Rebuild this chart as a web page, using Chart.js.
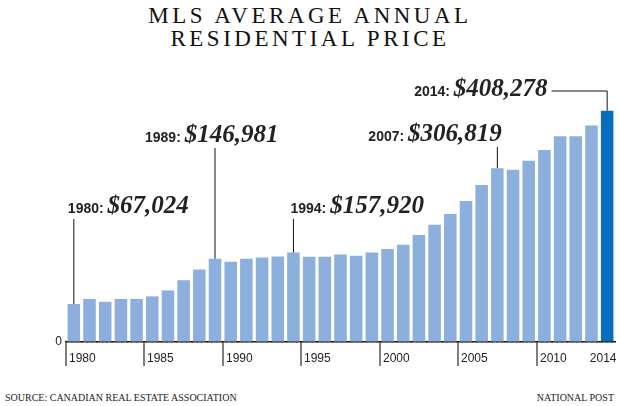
<!DOCTYPE html>
<html>
<head>
<meta charset="utf-8">
<script src="https://cdn.jsdelivr.net/npm/chart.js@4"></script>
<style>
  body { margin: 0; width: 620px; height: 406px; background: #fff; position: relative; overflow: hidden; }
  .title { position: absolute; top: 4px; left: 0; width: 620px; text-align: center; font-family: 'Liberation Serif', serif; font-size: 23px; letter-spacing: 3.5px; line-height: 23px; color: #111; }
  .box { position: absolute; top: 60px; left: 0; width: 620px; height: 320px; }
  .foot { position: absolute; top: 392px; font-family: 'Liberation Serif', serif; font-size: 10px; color: #222; }
</style>
</head>
<body>
<div class="title">MLS AVERAGE ANNUAL<br>RESIDENTIAL PRICE</div>
<div class="box"><canvas id="myChart"></canvas></div>
<div class="foot" style="left:5px">SOURCE: CANADIAN REAL ESTATE ASSOCIATION</div>
<div class="foot" style="right:6px">NATIONAL POST</div>
<script>
const years = [];
for (let y = 1980; y <= 2014; y++) years.push(String(y));
const prices = [67024, 76000, 71000, 76000, 76000, 80500, 91000, 109000, 128000, 146981,
  141400, 147000, 149000, 151000, 157920, 150400, 150300, 154600, 152400, 158000,
  163900, 171700, 189000, 207000, 226000, 249000, 277000, 306819, 304000, 320000,
  339000, 363000, 363000, 382000, 408278];
const tickYears = ['1980', '1985', '1990', '1995', '2000', '2005', '2010'];
const calloutYears = ['1980', '1989', '1994', '2007', '2014'];

// where each callout text sits (layout only)
const calloutLayout = {
  '1980': { dx: -6, y: 213 - 60 },
  '1989': { dx: -70, y: 142 - 60 },
  '1994': { dx: -3, y: 213 - 60 },
  '2007': { dx: -129, y: 141 - 60 },
  '2014': { dx: -193, y: 96 - 60, elbow: true }
};

function fmt(v) { return '$' + v.toLocaleString('en-US'); }

const extras = {
  id: 'extras',
  afterDraw(chart) {
    const ctx = chart.ctx, xs = chart.scales.x, ys = chart.scales.y;
    const base = ys.getPixelForValue(0);
    const step = xs.getPixelForValue(1) - xs.getPixelForValue(0);
    ctx.save();
    // x axis ticks and labels
    ctx.font = '12px "Liberation Sans", sans-serif';
    ctx.fillStyle = '#222';
    ctx.textBaseline = 'middle';
    ctx.strokeStyle = '#555';
    ctx.lineWidth = 1.5;
    tickYears.forEach(y => {
      const x = Math.round(xs.getPixelForValue(years.indexOf(y)) - step / 2);
      ctx.beginPath(); ctx.moveTo(x, base); ctx.lineTo(x, base + 24); ctx.stroke();
      ctx.textAlign = 'left';
      ctx.fillText(y, x + 3, base + 17);
    });
    ctx.textAlign = 'center';
    ctx.fillText('2014', xs.getPixelForValue(years.length - 1) - 4, base + 17);

    // callouts
    ctx.strokeStyle = '#111';
    ctx.lineWidth = 1;
    calloutYears.forEach(y => {
      const i = years.indexOf(y);
      const lay = calloutLayout[y];
      const x = xs.getPixelForValue(i);
      const top = ys.getPixelForValue(prices[i]);
      ctx.textAlign = 'left';
      ctx.textBaseline = 'alphabetic';
      const tx = x + lay.dx;
      ctx.font = 'bold 14px "Liberation Sans Narrow", "Liberation Sans", sans-serif';
      const lab = y + ': ';
      ctx.fillText(lab, tx, lay.y);
      const lw = ctx.measureText(lab).width;
      ctx.font = 'italic bold 25px "Liberation Serif", serif';
      ctx.fillText(fmt(prices[i]), tx + lw, lay.y);
      const vw = ctx.measureText(fmt(prices[i])).width;
      ctx.beginPath();
      if (lay.elbow) {
        ctx.moveTo(tx + lw + vw + 4, lay.y - 5);
        ctx.lineTo(x, lay.y - 5);
        ctx.lineTo(x, top);
      } else {
        ctx.moveTo(x, lay.y + 6);
        ctx.lineTo(x, top);
      }
      ctx.stroke();
    });
    ctx.restore();
  }
};

new Chart(document.getElementById('myChart'), {
  type: 'bar',
  data: {
    labels: years,
    datasets: [{
      data: prices,
      backgroundColor: years.map((y, i) => i === years.length - 1 ? '#0a6ebd' : '#8dafdd'),
      borderWidth: 0,
      barPercentage: 0.8,
      categoryPercentage: 1
    }]
  },
  options: {
    responsive: true,
    maintainAspectRatio: false,
    animation: false,
    layout: { padding: { top: 44, bottom: 30, right: 5, left: 0 } },
    plugins: { legend: { display: false }, tooltip: { enabled: false } },
    scales: {
      x: {
        grid: { display: false },
        ticks: { display: false },
        border: { color: '#111', width: 1.5 }
      },
      y: {
        min: 0, max: 420000,
        afterFit: s => { s.width = 66; },
        ticks: {
          stepSize: 100000,
          padding: 4,
          color: '#222',
          autoSkip: false,
          font: { family: 'Liberation Sans', size: 12 },
          callback: v => v % 100000 !== 0 ? '' : (v === 400000 ? '$400,000' : v.toLocaleString('en-US'))
        },
        grid: {
          color: c => (c.tick && c.tick.value % 100000 === 0) ? '#bbb' : 'rgba(0,0,0,0)',
          drawTicks: false
        },
        border: { display: false, dash: [2, 3] }
      }
    }
  },
  plugins: [extras]
});
</script>
</body>
</html>
